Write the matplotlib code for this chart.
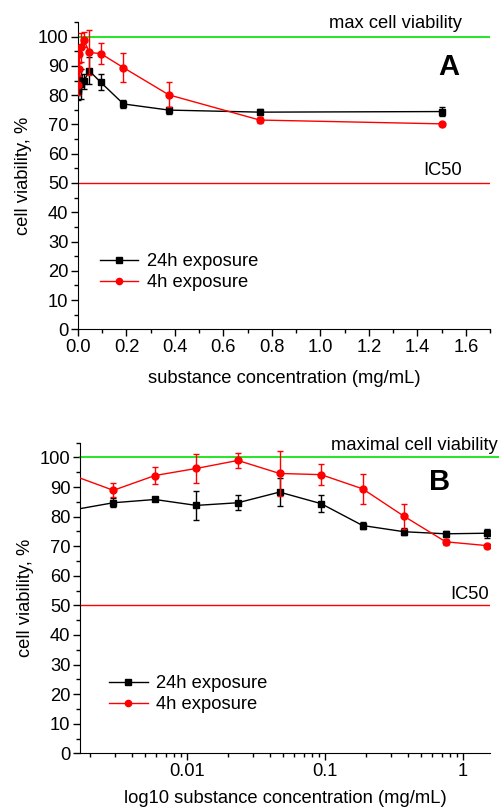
import matplotlib
matplotlib.use("Agg")
import matplotlib.pyplot as plt
from matplotlib.ticker import MultipleLocator, LogLocator, FixedLocator, NullFormatter
from matplotlib.lines import Line2D

plt.rcParams['font.family'] = ['Liberation Sans', 'DejaVu Sans']

# ---- data ----
conc = [0.00073, 0.00146, 0.00293, 0.00586, 0.0117, 0.0234, 0.0469, 0.09375, 0.1875, 0.375, 0.75, 1.5]
v24 = [81.5, 82.2, 84.7, 85.8, 83.8, 84.7, 88.3, 84.4, 77.0, 74.9, 74.2, 74.4]
e24 = [3.0, 2.0, 1.6, 0.6, 5.0, 2.6, 4.6, 2.8, 1.3, 1.2, 1.0, 1.5]
v4 = [83.5, 94.1, 88.9, 93.9, 96.3, 99.0, 94.6, 94.2, 89.4, 80.1, 71.5, 70.2]
e4 = [3.5, 3.0, 2.4, 3.0, 4.9, 2.5, 7.7, 3.6, 5.0, 4.3, 1.0, 0.7]
label24 = "24h exposure"
label4 = "4h exposure"
max_line = 100
ic50_line = 50

FS = 13.2
fig = plt.figure(figsize=(4.99, 8.11), dpi=100)

def style(ax):
    ax.spines['top'].set_visible(False)
    ax.spines['right'].set_visible(False)
    ax.tick_params(direction='out', which='major', length=5, width=1, labelsize=FS, pad=2)
    ax.tick_params(direction='out', which='minor', length=3, width=1)
    ax.set_ylim(0, 105)
    ax.yaxis.set_major_locator(MultipleLocator(10))
    ax.yaxis.set_minor_locator(MultipleLocator(5))
    ax.set_ylabel("cell viability, %", fontsize=FS, labelpad=4)

def series(ax):
    ax.errorbar(conc, v24, yerr=e24, color='black', marker='s', ms=4.5, lw=1,
                capsize=2.5, elinewidth=1, capthick=1, zorder=4)
    ax.errorbar(conc, v4, yerr=e4, color='red', marker='o', ms=5, lw=1,
                capsize=2.5, elinewidth=1, capthick=1, zorder=5)

def legend(ax, x, y):
    h = [Line2D([], [], color='black', marker='s', ms=4, lw=1),
         Line2D([], [], color='red', marker='o', ms=4.5, lw=1)]
    ax.legend(h, [label24, label4], loc='center left', bbox_to_anchor=(x, y),
              frameon=False, fontsize=FS, handlelength=2.1, handletextpad=0.45,
              labelspacing=0.2, borderpad=0, borderaxespad=0)

# ---- Panel A ----
axA = fig.add_axes([78/499, 1-329.3/811, 412/499, 307.3/811])
style(axA)
axA.axhline(max_line, color='#00e000', lw=1.2, zorder=2)
axA.axhline(ic50_line, color='red', lw=1, zorder=2)
series(axA)
axA.set_xlim(0, 1.7)
axA.xaxis.set_major_locator(MultipleLocator(0.2))
axA.xaxis.set_minor_locator(MultipleLocator(0.1))
axA.xaxis.set_major_formatter(matplotlib.ticker.FormatStrFormatter('%.1f'))
axA.set_xlabel("substance concentration (mg/mL)", fontsize=FS, labelpad=10)
axA.text(0.932, 103.0, "max cell viability", transform=axA.get_yaxis_transform(),
         ha='right', va='baseline', fontsize=FS)
axA.text(0.932, 52.8, "IC50", transform=axA.get_yaxis_transform(),
         ha='right', va='baseline', fontsize=FS)
axA.text(0.90, 89.7, "A", transform=axA.get_yaxis_transform(),
         ha='center', va='center', fontsize=21, fontweight='bold')
legend(axA, 0.053, 0.186)

# ---- Panel B ----
axB = fig.add_axes([80/499, 1-753.3/811, 410/499, 310.6/811])
style(axB)
axB.set_xscale('log')
axB.set_xlim(0.00168, 1.57)
axB.axhline(max_line, xmin=0, xmax=1.022, color='#00e000', lw=1.2, zorder=2, clip_on=False)
axB.axhline(ic50_line, color='red', lw=1, zorder=2)
series(axB)
axB.xaxis.set_major_locator(FixedLocator([0.01, 0.1, 1]))
axB.xaxis.set_major_formatter(matplotlib.ticker.FuncFormatter(lambda v, p: f"{v:g}"))
axB.xaxis.set_minor_locator(LogLocator(base=10, subs=range(2, 10), numticks=20))
axB.xaxis.set_minor_formatter(NullFormatter())
axB.set_xlabel("log10 substance concentration (mg/mL)", fontsize=FS, labelpad=7)
axB.text(1.02, 102.6, "maximal cell viability", transform=axB.get_yaxis_transform(),
         ha='right', va='baseline', fontsize=FS)
axB.text(0.998, 52.3, "IC50", transform=axB.get_yaxis_transform(),
         ha='right', va='baseline', fontsize=FS)
axB.text(0.876, 91.6, "B", transform=axB.get_yaxis_transform(),
         ha='center', va='center', fontsize=21, fontweight='bold')
legend(axB, 0.071, 0.19)

fig.savefig("out.png", dpi=100)
